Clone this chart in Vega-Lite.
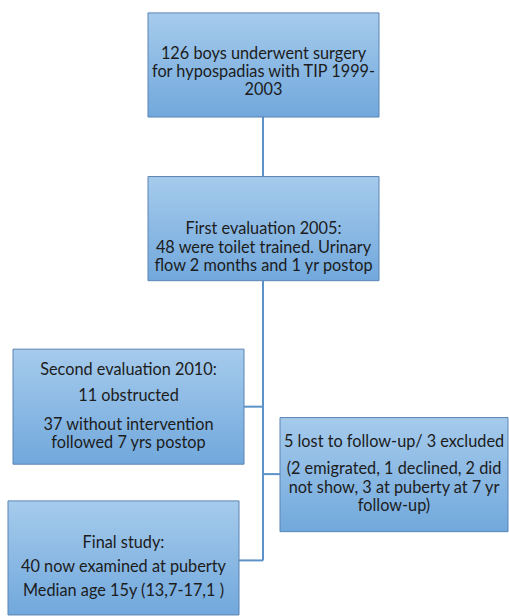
{
  "$schema": "https://vega.github.io/schema/vega-lite/v6.json",
  "width": 509,
  "height": 616,
  "autosize": {"type": "fit", "contains": "padding"},
  "padding": 0,
  "background": "white",
  "config": {"view": {"stroke": null}},
  "datasets": {
    "boxes": [
      {"id": "b1", "x0": 148, "x1": 379, "y0": 13, "y1": 118},
      {"id": "b2", "x0": 148, "x1": 379, "y0": 178, "y1": 283},
      {"id": "b3", "x0": 13, "x1": 244, "y0": 352, "y1": 468},
      {"id": "b4", "x0": 280, "x1": 508, "y0": 421, "y1": 536},
      {"id": "b5", "x0": 8, "x1": 239, "y0": 505, "y1": 620}
    ],
    "links": [
      {"x0": 263, "x1": 263, "y0": 118, "y1": 178},
      {"x0": 263, "x1": 263, "y0": 283, "y1": 565},
      {"x0": 244, "x1": 263, "y0": 410, "y1": 410},
      {"x0": 263, "x1": 280, "y0": 478, "y1": 478},
      {"x0": 239, "x1": 263, "y0": 565, "y1": 565}
    ],
    "labels": [
      {"x": 263.5, "y": 54, "t": "126 boys underwent surgery"},
      {"x": 263.5, "y": 72.5, "t": "for hypospadias with TIP 1999-"},
      {"x": 263.5, "y": 91, "t": "2003"},
      {"x": 263.5, "y": 231, "t": "First evaluation 2005:"},
      {"x": 263.5, "y": 250, "t": "48 were toilet trained. Urinary"},
      {"x": 263.5, "y": 268.5, "t": "flow 2 months and 1 yr postop"},
      {"x": 128.5, "y": 373, "t": "Second evaluation 2010:"},
      {"x": 128.5, "y": 399, "t": "11 obstructed"},
      {"x": 128.5, "y": 428, "t": "37 without intervention"},
      {"x": 128.5, "y": 446.5, "t": "followed 7 yrs postop"},
      {"x": 394, "y": 446, "t": "5 lost to follow-up/ 3 excluded"},
      {"x": 394, "y": 473, "t": "(2 emigrated, 1 declined, 2 did"},
      {"x": 394, "y": 491.5, "t": "not show, 3 at puberty at 7 yr"},
      {"x": 394, "y": 510, "t": "follow-up)"},
      {"x": 123.5, "y": 547, "t": "Final study:"},
      {"x": 123.5, "y": 572, "t": "40 now examined at puberty"},
      {"x": 123.5, "y": 596, "t": "Median age 15y (13,7-17,1 )"}
    ]
  },
  "layer": [
    {
      "data": {"name": "links"},
      "mark": {"type": "rule", "color": "#5b93c8", "strokeWidth": 2},
      "encoding": {
        "x": {"field": "x0", "type": "quantitative", "scale": {"domain": [0, 509]}, "axis": null},
        "x2": {"field": "x1"},
        "y": {"field": "y0", "type": "quantitative", "scale": {"domain": [0, 616], "reverse": true}, "axis": null},
        "y2": {"field": "y1"}
      }
    },
    {
      "data": {"name": "boxes"},
      "mark": {
        "type": "rect",
        "stroke": "#5a84b4",
        "strokeWidth": 1,
        "fill": {
          "gradient": "linear", "x1": 0, "y1": 0, "x2": 0, "y2": 1,
          "stops": [{"offset": 0, "color": "#a6cbec"}, {"offset": 1, "color": "#71a8dc"}]
        }
      },
      "encoding": {
        "x": {"field": "x0", "type": "quantitative", "scale": {"domain": [0, 509]}, "axis": null},
        "x2": {"field": "x1"},
        "y": {"field": "y0", "type": "quantitative", "scale": {"domain": [0, 616], "reverse": true}, "axis": null},
        "y2": {"field": "y1"}
      }
    },
    {
      "data": {"name": "labels"},
      "mark": {"type": "text", "font": "Lato", "fontSize": 16.3, "color": "#1c1c1c", "align": "center", "baseline": "middle"},
      "encoding": {
        "x": {"field": "x", "type": "quantitative", "scale": {"domain": [0, 509]}, "axis": null},
        "y": {"field": "y", "type": "quantitative", "scale": {"domain": [0, 616], "reverse": true}, "axis": null},
        "text": {"field": "t"}
      }
    }
  ]
}
